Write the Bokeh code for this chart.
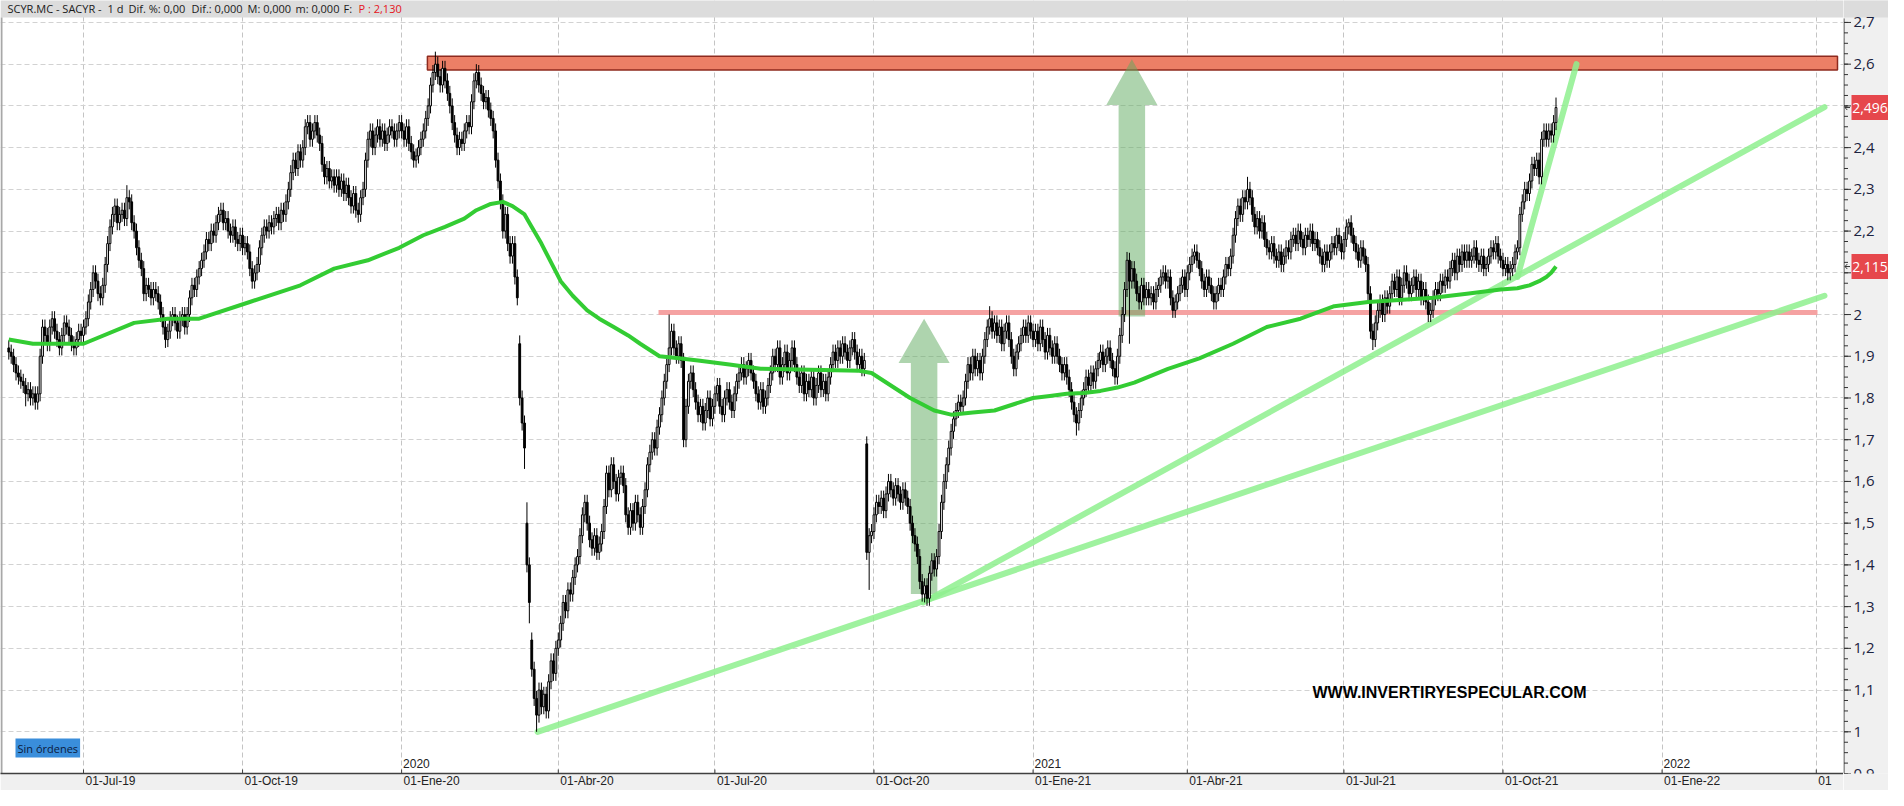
import numpy as np
from bokeh.plotting import figure
from bokeh.layouts import row
from bokeh.models import ColumnDataSource, Range1d, FixedTicker, Label
from bokeh.embed import file_html
from bokeh.resources import INLINE
from bokeh.core.properties import value

# ---------------- data ----------------
# business-day index of the first candle, counted from 2019-07-01
FIRST_IDX = -31
CLOSE = [
    1.91, 1.90, 1.88, 1.86, 1.85, 1.84,
    1.83, 1.81, 1.82, 1.80, 1.81, 1.79, 1.81,
    1.90, 1.97,
    1.95, 1.93, 1.97, 1.99, 1.96, 1.94, 1.92, 1.95, 1.98, 1.97, 1.95, 1.93, 1.92, 1.94, 1.96, 1.95, 1.97,
    1.99, 2.03, 2.06, 2.10, 2.08, 2.05, 2.04, 2.07, 2.12, 2.17, 2.21, 2.24,
    2.26, 2.22, 2.24, 2.25, 2.23, 2.28, 2.27, 2.22, 2.20, 2.16, 2.13, 2.11,
    2.05, 2.07, 2.06, 2.04, 2.06, 2.05, 2.03, 2.00, 1.97, 1.94, 1.96,
    1.99, 2.00, 1.98, 1.96, 1.99, 2.00, 1.97, 2.00, 2.04, 2.07, 2.06, 2.09, 2.11,
    2.13, 2.15, 2.18, 2.17, 2.20, 2.19, 2.22, 2.24, 2.25, 2.22, 2.23, 2.20, 2.19,
    2.21, 2.18, 2.17, 2.19, 2.16, 2.17, 2.15, 2.11, 2.08, 2.10, 2.12, 2.16, 2.19, 2.21, 2.20,
    2.22, 2.21, 2.23, 2.24, 2.22, 2.25, 2.24, 2.27, 2.30, 2.34, 2.37, 2.35, 2.39, 2.37, 2.40,
    2.45, 2.46, 2.42, 2.44, 2.46, 2.43, 2.41, 2.36, 2.33, 2.35, 2.32, 2.33, 2.31,
    2.33, 2.30, 2.32, 2.29, 2.31, 2.28, 2.26, 2.29, 2.25, 2.24, 2.28, 2.30, 2.37, 2.42, 2.44, 2.40,
    2.43, 2.45, 2.42, 2.44, 2.41, 2.43, 2.45, 2.44, 2.42, 2.44, 2.46,
    2.44, 2.42, 2.45, 2.41, 2.39, 2.37, 2.38, 2.40, 2.42, 2.44, 2.47, 2.50, 2.55, 2.58, 2.60,
    2.57, 2.55, 2.59, 2.56, 2.53, 2.50, 2.46, 2.43, 2.40, 2.42, 2.41, 2.44, 2.46, 2.45, 2.51, 2.56, 2.58,
    2.55, 2.53, 2.51, 2.52, 2.49, 2.47, 2.44, 2.37, 2.32, 2.27, 2.20, 2.24, 2.17, 2.14, 2.17, 2.09, 2.04,
    1.80, 1.74, 1.68, 1.40, 1.31, 1.15, 1.08, 1.04, 1.10, 1.06, 1.09, 1.05, 1.12, 1.17, 1.14, 1.20, 1.22,
    1.26, 1.31, 1.29, 1.34, 1.33, 1.37, 1.40, 1.42, 1.47, 1.52, 1.55, 1.50, 1.46, 1.44, 1.47, 1.43, 1.45, 1.48,
    1.54, 1.62, 1.58, 1.64, 1.60, 1.57, 1.61, 1.62, 1.59, 1.52, 1.49, 1.53, 1.50, 1.55, 1.52, 1.49, 1.54,
    1.58, 1.64, 1.67, 1.70, 1.68, 1.73, 1.76, 1.80, 1.84, 1.88, 1.92, 1.96, 1.92, 1.90, 1.93, 1.89, 1.70,
    1.78, 1.84, 1.86, 1.82, 1.79, 1.76, 1.78, 1.74, 1.77, 1.80, 1.75, 1.78, 1.81, 1.83, 1.78, 1.76, 1.80, 1.82, 1.79, 1.77, 1.81,
    1.84, 1.86, 1.88, 1.85, 1.87, 1.89, 1.86, 1.84, 1.81, 1.79, 1.82, 1.78, 1.80, 1.83, 1.86, 1.90, 1.88, 1.92, 1.85,
    1.88, 1.91, 1.86, 1.89, 1.92, 1.88, 1.85, 1.83, 1.86, 1.81, 1.84, 1.82, 1.85, 1.80, 1.83, 1.86, 1.82, 1.84, 1.81, 1.85,
    1.88, 1.91, 1.89, 1.92, 1.90, 1.93, 1.91, 1.89, 1.92, 1.94, 1.91, 1.88, 1.90, 1.87, 1.89,
    1.43, 1.47, 1.48, 1.52, 1.55, 1.54, 1.56, 1.53, 1.57, 1.60, 1.58, 1.56, 1.59, 1.57, 1.55, 1.58, 1.56, 1.54,
    1.50, 1.47, 1.45, 1.42, 1.36, 1.33, 1.35, 1.32, 1.38, 1.41, 1.39, 1.42, 1.48, 1.55, 1.60, 1.64, 1.68, 1.72, 1.75,
    1.77, 1.79, 1.78, 1.80, 1.84, 1.88, 1.86, 1.90, 1.87, 1.89, 1.86, 1.90, 1.94, 1.97, 1.99, 1.96, 1.98,
    1.95, 1.97, 1.93, 1.96, 1.98, 1.94, 1.90, 1.87, 1.91, 1.93, 1.95, 1.97, 1.95, 1.98, 1.96, 1.94,
    1.96, 1.93, 1.97, 1.94, 1.91, 1.95, 1.92, 1.90, 1.93, 1.90, 1.88, 1.86, 1.88, 1.85, 1.82, 1.79, 1.76, 1.74, 1.77, 1.80,
    1.82, 1.85, 1.83, 1.86, 1.84, 1.87, 1.89, 1.91, 1.88, 1.90, 1.92, 1.89, 1.87, 1.85, 1.90, 1.95, 2.00, 2.06, 2.13, 2.08, 2.11,
    2.08, 2.05, 2.03, 2.07, 2.04, 2.06, 2.04, 2.05, 2.03, 2.06, 2.07, 2.09, 2.10, 2.08, 2.09, 2.04, 2.01, 2.03,
    2.05, 2.07, 2.09, 2.06, 2.10, 2.12, 2.14, 2.15, 2.13, 2.11, 2.08, 2.06, 2.09, 2.07, 2.05, 2.03, 2.05,
    2.07, 2.06, 2.09, 2.12, 2.11, 2.14, 2.19, 2.23, 2.26, 2.24, 2.28, 2.27, 2.30, 2.28, 2.24, 2.21, 2.23, 2.20, 2.22, 2.18, 2.16,
    2.15, 2.17, 2.14, 2.13, 2.15, 2.12, 2.14, 2.16, 2.15, 2.18, 2.19, 2.17, 2.20, 2.18, 2.16, 2.19, 2.18, 2.20, 2.17, 2.18, 2.16,
    2.14, 2.12, 2.15, 2.13, 2.15, 2.17, 2.16, 2.19, 2.17, 2.15, 2.18, 2.21, 2.22, 2.19, 2.17, 2.15, 2.13, 2.16, 2.14, 2.12, 2.05, 1.96, 1.94,
    1.98, 2.01, 2.03, 2.00, 2.04, 2.02, 2.05, 2.08, 2.06, 2.09, 2.04, 2.07, 2.10, 2.08, 2.05, 2.07, 2.09, 2.06, 2.08, 2.04, 2.06, 2.03, 2.00, 2.01,
    2.04, 2.06, 2.05, 2.08, 2.07, 2.09, 2.08, 2.11, 2.13, 2.10, 2.14, 2.12, 2.15, 2.13, 2.15, 2.13, 2.14, 2.16, 2.13, 2.12, 2.14, 2.11, 2.12,
    2.14, 2.16, 2.15, 2.17, 2.14, 2.13, 2.11, 2.12, 2.10, 2.11, 2.12, 2.15, 2.16, 2.24, 2.27, 2.30, 2.29,
    2.32, 2.36, 2.35, 2.37, 2.33, 2.42, 2.44, 2.42, 2.44, 2.43, 2.46, 2.496,
]
GAP_OPEN = {181: 1.93, 184: 1.50, 186: 1.22, 325: 1.69}
HIGH_EXT = {18: 2.31, 146: 2.63, 163: 2.60, 181: 1.95, 184: 1.55, 243: 2.00,
            376: 2.02, 433: 2.15, 483: 2.33, 525: 2.23, 611: 2.52}
LOW_EXT = {-24: 1.78, 34: 1.92, 114: 2.22, 183: 1.63, 185: 1.26, 188: 1.00,
           326: 1.34, 349: 1.31, 412: 1.71, 434: 1.93, 535: 1.915}
WICK = 0.018

# moving average (read points)
MA_IDX = [-31, -21, 0, 21, 35, 48, 69, 90, 104, 118, 131, 141, 150, 158, 163, 169, 174, 178, 183,
          186, 190, 194, 198, 203, 209, 214, 220, 226, 231, 235, 239, 247, 255, 268, 281, 322, 327,
          343, 348, 353, 360, 369, 378, 386, 394, 401, 408, 415, 422, 429, 436, 450, 463, 477, 491,
          505, 519, 533, 546, 560, 574, 588, 595, 600, 604, 607, 609, 611]
MA_VAL = [1.94, 1.93, 1.93, 1.98, 1.99, 1.99, 2.03, 2.07, 2.11, 2.13, 2.16, 2.19, 2.21, 2.23, 2.25,
          2.265, 2.27, 2.26, 2.24, 2.21, 2.17, 2.125, 2.08, 2.045, 2.01, 1.99, 1.97, 1.95, 1.93,
          1.915, 1.90, 1.895, 1.89, 1.88, 1.87, 1.865, 1.86, 1.80, 1.785, 1.77, 1.76, 1.765, 1.77,
          1.785, 1.80, 1.805, 1.81, 1.812, 1.817, 1.825, 1.837, 1.87, 1.895, 1.93, 1.97, 1.99,
          2.02, 2.03, 2.035, 2.04, 2.05, 2.06, 2.063, 2.07, 2.08, 2.09, 2.10, 2.115]

TICK_DATES = ["2019-07-01", "2019-10-01", "2020-01-01", "2020-04-01", "2020-07-01", "2020-10-01",
              "2021-01-01", "2021-04-01", "2021-07-01", "2021-10-01", "2022-01-01", "2022-04-01"]
TICK_LABELS = ["01-Jul-19", "01-Oct-19", "01-Ene-20", "01-Abr-20", "01-Jul-20", "01-Oct-20",
               "01-Ene-21", "01-Abr-21", "01-Jul-21", "01-Oct-21", "01-Ene-22", "01"]
YEAR_DATES = ["2020-01-01", "2021-01-01", "2022-01-01"]
YEAR_LABELS = ["2020", "2021", "2022"]
Y_TICKS = [round(0.9 + 0.1 * k, 1) for k in range(19)]
Y_HIDDEN = [2.5, 2.1]          # labels covered by the price tags

HEADER_TEXT = ["SCYR.MC - SACYR -", "1 d", "Dif. %: 0,00", "Dif.: 0,000", "M: 0,000",
               "m: 0,000", "F:", "P : 2,130"]
HEADER_COLOR = ["#1A1A1A"] * 7 + ["#E5141B"]

# drawings on the chart
ZONE = dict(left=142.7, right=727.8, bottom=2.586, top=2.619)
SUPPORT = dict(x0=238.6, x1=719.5, y=2.005)
TREND_X0 = [188.4, 348.5, 595.0]
TREND_Y0 = [1.00, 1.31, 2.09]
TREND_X1 = [722.4, 722.4, 619.5]
TREND_Y1 = [2.045, 2.497, 2.60]
ARROW_X = [348.8, 435.0]
ARROW_BASE = [1.33, 1.995]
ARROW_NECK = [1.884, 2.502]
ARROW_TIP = [1.99, 2.612]
TAG_VALUES = [2.496, 2.115]

# ---------------- layout constants (pixels) ----------------
PXD = 2.41            # px per business day
PX = 418.35           # px per price unit
X0_PX = 83            # pixel of 2019-07-01
Y27_PX = 22           # pixel of 2.7
MAIN_W, SIDE_W, H = 1843, 45, 790
BOTTOM = 15
FB = H - BOTTOM       # frame bottom pixel

def xi(px):
    return (px - X0_PX) / PXD

def yv(py):
    return 2.7 - (py - Y27_PX) / PX

# ---------------- candles ----------------
close = np.array(CLOSE)
idx = FIRST_IDX + np.arange(len(close))
opn = np.empty_like(close)
opn[0] = close[0] + 0.01
opn[1:] = close[:-1]
for k, v in GAP_OPEN.items():
    opn[k - FIRST_IDX] = v
hi = np.maximum(opn, close) + WICK
lo = np.minimum(opn, close) - WICK
for k, v in HIGH_EXT.items():
    hi[k - FIRST_IDX] = v
for k, v in LOW_EXT.items():
    lo[k - FIRST_IDX] = v
up = close >= opn
src_up = ColumnDataSource(dict(x=idx[up], top=close[up], bottom=opn[up], hi=hi[up], lo=lo[up]))
src_dn = ColumnDataSource(dict(x=idx[~up], top=opn[~up], bottom=close[~up], hi=hi[~up], lo=lo[~up]))

tick_pos = [int(np.busday_count("2019-07-01", d)) for d in TICK_DATES]
year_pos = [int(np.busday_count("2019-07-01", d)) for d in YEAR_DATES]

X_START, X_END = xi(0), xi(MAIN_W)
Y_START, Y_END = yv(FB), yv(0)
p = figure(width=MAIN_W, height=H, x_range=Range1d(X_START, X_END),
           y_range=Range1d(Y_START, Y_END),
           output_backend="svg", toolbar_location=None, y_axis_location=None,
           min_border_left=0, min_border_right=0, min_border_top=0, min_border_bottom=BOTTOM,
           background_fill_color="white", border_fill_color="#F0F0F0", outline_line_color=None)

# grids
p.xgrid.ticker = FixedTicker(ticks=tick_pos)
p.xgrid.grid_line_color = "#C4C4C4"
p.xgrid.grid_line_dash = "5 3"
p.ygrid.ticker = FixedTicker(ticks=Y_TICKS)
p.ygrid.grid_line_color = "#D2D2D2"
p.ygrid.grid_line_dash = "5 3"

# x axis: labels start just right of each date
half_w_px = [25, 26.7, 28, 26.7, 25, 26.7, 28, 26.7, 25, 26.7, 28, 6.7]
lab_pos = [round(t + (2 + hw) / PXD, 2) for t, hw in zip(tick_pos, half_w_px)]
xax = p.xaxis[0]
xax.ticker = FixedTicker(ticks=lab_pos, minor_ticks=[])
xax.major_label_overrides = {t: l for t, l in zip(lab_pos, TICK_LABELS)}
xax.axis_line_color = "#404040"
xax.axis_line_width = 1.5
xax.major_tick_line_color = None
xax.major_tick_in = 0
xax.major_tick_out = 0
xax.major_label_standoff = 0
xax.major_label_text_font = "Liberation Sans"
xax.major_label_text_font_size = "12px"
xax.major_label_text_color = "#222222"

# header band
p.quad(left=[X_START], right=[X_END], bottom=[yv(17)], top=[yv(-10)],
       fill_color="#DCDCDC", line_color=None)
# window border on the left
p.segment(x0=[xi(1)], y0=[yv(17)], x1=[xi(1)], y1=[yv(H)], line_color="#A8A8A8", line_width=2)
# short date tick marks standing on the axis line
p.segment(x0=tick_pos, y0=[yv(FB)] * len(tick_pos), x1=tick_pos, y1=[yv(FB - 4)] * len(tick_pos),
          line_color="#404040", line_width=1)

# resistance zone
p.quad(left=[ZONE["left"]], right=[ZONE["right"]], bottom=[ZONE["bottom"]], top=[ZONE["top"]],
       fill_color="#EC7F66", line_color="#8E2A1E", line_width=1.5)

# support line
p.segment(x0=[SUPPORT["x0"]], y0=[SUPPORT["y"]], x1=[SUPPORT["x1"]], y1=[SUPPORT["y"]],
          line_color="#F5A2A2", line_width=5)

# arrows
axs, ays = [], []
for cx, b, n, t in zip(ARROW_X, ARROW_BASE, ARROW_NECK, ARROW_TIP):
    sw, hw = 5.5, 10.6
    axs.append([cx - sw, cx + sw, cx + sw, cx + hw, cx, cx - hw, cx - sw])
    ays.append([b, b, n, n, t, n, n])
p.patches(axs, ays, fill_color="#5DAA5D", fill_alpha=0.5, line_color=None)

# trend lines
p.segment(x0=TREND_X0, y0=TREND_Y0, x1=TREND_X1, y1=TREND_Y1,
          line_color="#8EF08E", line_alpha=0.85, line_width=6, line_cap="round")

# candles
for s in (src_up, src_dn):
    p.segment(x0="x", y0="hi", x1="x", y1="lo", source=s, line_color="black", line_width=1)
p.vbar(x="x", width=0.75, top="top", bottom="bottom", source=src_up,
       fill_color="white", line_color="black", line_width=1)
p.vbar(x="x", width=0.75, top="top", bottom="bottom", source=src_dn,
       fill_color="black", line_color="black", line_width=1)

# moving average
p.line(MA_IDX, MA_VAL, line_color="#33CC33", line_width=4, line_join="round")

# year labels
p.text(x=[t + 0.6 for t in year_pos], y=[yv(765)] * 3, text=YEAR_LABELS,
       text_font=value("Liberation Sans"), text_font_size="12px", text_color="#222222",
       text_baseline="middle", text_align="left")

# watermark
p.add_layout(Label(x=xi(1312), y=yv(694), text="WWW.INVERTIRYESPECULAR.COM",
                   text_font="Liberation Sans", text_font_style="bold", text_font_size="16px",
                   text_color="black", text_baseline="middle", text_align="left"))

# "Sin órdenes" badge
p.add_layout(Label(x=xi(15), y=yv(749.5), text="Sin órdenes",
                   text_font="Open Sans", text_font_size="11px", text_color="#0B1A3C",
                   text_baseline="middle", text_align="left",
                   background_fill_color="#3A8EDB", padding=2))

# header texts
for t, c, xp in zip(HEADER_TEXT, HEADER_COLOR, [7, 107, 128, 191, 247, 295, 343, 358]):
    p.add_layout(Label(x=xi(xp), y=yv(8.5), text=t, text_font="Open Sans", text_font_size="11px",
                       text_color=c, text_baseline="middle", text_align="left"))

# ---------------- price axis panel (right) ----------------
side = figure(width=SIDE_W, height=H, x_range=Range1d(0, SIDE_W), y_range=Range1d(Y_START, Y_END),
              output_backend="svg", toolbar_location=None, x_axis_location=None,
              y_axis_location=None, min_border_left=0, min_border_right=0,
              min_border_top=0, min_border_bottom=BOTTOM,
              background_fill_color="#F0F0F0", border_fill_color="#F0F0F0", outline_line_color=None)
side.xgrid.visible = False
side.ygrid.visible = False
side.quad(left=[0], right=[SIDE_W], bottom=[yv(17)], top=[yv(-10)], fill_color="#DCDCDC", line_color=None)
side.segment(x0=[0.5], y0=[yv(18)], x1=[0.5], y1=[yv(FB)], line_color="#333333", line_width=1)
minor = [round(0.9 + 0.025 * k, 3) for k in range(73)]
side.segment(x0=[0.5] * len(minor), y0=minor, x1=[4.5] * len(minor), y1=minor,
             line_color="#333333", line_width=1)
side.segment(x0=[0.5] * len(Y_TICKS), y0=Y_TICKS, x1=[7.5] * len(Y_TICKS), y1=Y_TICKS,
             line_color="#333333", line_width=1)
ylabels = []
for v in Y_TICKS:
    s = f"{v:.1f}".replace(".", ",")
    if s.endswith(",0"):
        s = s[:-2]
    ylabels.append(s)
shown = [i for i, v in enumerate(Y_TICKS) if v not in Y_HIDDEN]
side.text(x=[10] * len(shown), y=[Y_TICKS[i] for i in shown], text=[ylabels[i] for i in shown],
          text_font=value("Open Sans"), text_font_size="15px", text_color="#1C2340",
          text_baseline="middle", text_align="left")
# price tags
side.rect(x=[26.5] * 2, y=TAG_VALUES, width=37, height=25 / PX, fill_color="#E6474C", line_color=None)
side.text(x=[26.5] * 2, y=TAG_VALUES, text=[f"{v:.3f}".replace(".", ",") for v in TAG_VALUES],
          text_font=value("Open Sans"), text_font_size="14px", text_color="white",
          text_baseline="middle", text_align="center")
# small pointers next to the axis
for v in TAG_VALUES:
    side.segment(x0=[1.5, 1.5, 1.5], y0=[v, v, v], x1=[6.5, 3.8, 3.8],
                 y1=[v, v + 2.5 / PX, v - 2.5 / PX], line_color="#333333", line_width=1)

layout = row(p, side, spacing=0)
open("out.html", "w").write(file_html(layout, INLINE))
